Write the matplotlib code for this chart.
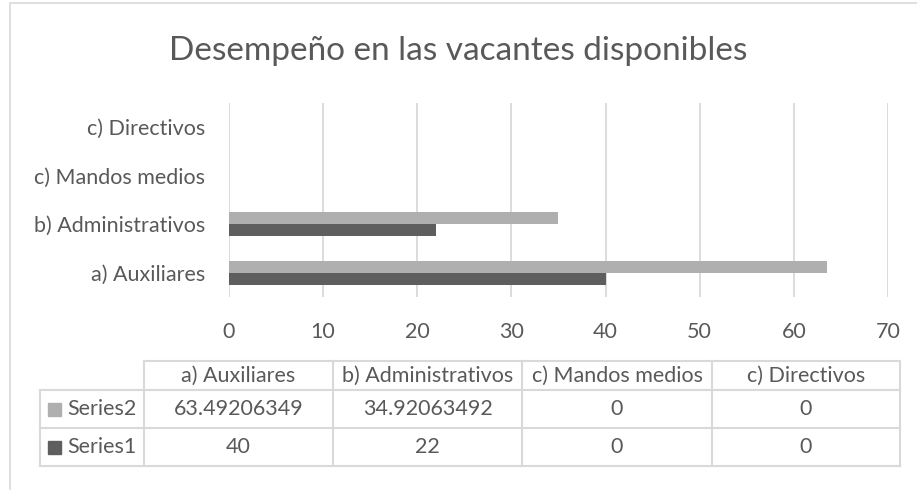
import matplotlib.pyplot as plt
from matplotlib.lines import Line2D
from matplotlib.patches import Rectangle
import numpy as np

plt.rcParams['font.family'] = ['Lato', 'DejaVu Sans']

# datos
categorias = ["a) Auxiliares", "b) Administrativos", "c) Mandos medios", "c) Directivos"]
series1 = [40, 22, 0, 0]
series2 = [63.49206349, 34.92063492, 0, 0]
series1_txt = ["40", "22", "0", "0"]
series2_txt = ["63.49206349", "34.92063492", "0", "0"]
ticks_x = [0, 10, 20, 30, 40, 50, 60, 70]

W, H = 917, 490
GRIS_TXT = "#595959"
GRIS_LINEA = "#D9D9D9"
COLOR_S1 = "#5E5E5E"
COLOR_S2 = "#AFAFAF"
FS = 15.5


def fx(x):
    return x / W


def fy(y):
    return 1 - y / H


fig = plt.figure(figsize=(W / 100, H / 100), dpi=100)

# marco del gráfico (recortado a la derecha y abajo)
fig.add_artist(Rectangle((fx(10), fy(600)), fx(1000), (600 - 3) / H, transform=fig.transFigure,
                         fill=False, edgecolor=GRIS_LINEA, lw=1.2))

fig.text(fx(458), fy(51), "Desempeño en las vacantes disponibles", ha="center", va="center",
         fontsize=24, color=GRIS_TXT)

ax = fig.add_axes([fx(229), fy(297), fx(888 - 229), (297 - 103) / H])
y = np.arange(len(categorias))
ax.barh(y + 0.125, series2, height=0.25, color=COLOR_S2, zorder=3)
ax.barh(y - 0.125, series1, height=0.25, color=COLOR_S1, zorder=3)
ax.set_xlim(0, 70)
ax.set_ylim(-0.5, 3.5)
ax.set_xticks(ticks_x)
ax.set_yticks(y)
ax.set_yticklabels(categorias)
ax.tick_params(length=0, labelsize=FS, labelcolor=GRIS_TXT)
ax.tick_params(axis="x", pad=18)
ax.tick_params(axis="y", pad=17)
ax.grid(axis="x", color=GRIS_LINEA, lw=1.3, zorder=0)
for s in ax.spines.values():
    s.set_visible(False)

# tabla de datos
cols = [144, 333, 522, 712, 900]
filas = [361, 390, 428, 466]
izq = 40


def linea(x0, y0, x1, y1):
    fig.add_artist(Line2D([fx(x0), fx(x1)], [fy(y0), fy(y1)], transform=fig.transFigure,
                          color=GRIS_LINEA, lw=1.5))


linea(cols[0], filas[0], cols[-1], filas[0])
for yy in filas[1:]:
    linea(izq, yy, cols[-1], yy)
linea(izq, filas[1], izq, filas[-1])
for xx in cols:
    linea(xx, filas[0], xx, filas[-1])

for i, cat in enumerate(categorias):
    xc = (cols[i] + cols[i + 1]) / 2
    fig.text(fx(xc), fy((filas[0] + filas[1]) / 2), cat, ha="center", va="center",
             fontsize=FS, color=GRIS_TXT)
    fig.text(fx(xc), fy((filas[1] + filas[2]) / 2), series2_txt[i], ha="center", va="center",
             fontsize=FS, color=GRIS_TXT)
    fig.text(fx(xc), fy((filas[2] + filas[3]) / 2), series1_txt[i], ha="center", va="center",
             fontsize=FS, color=GRIS_TXT)

# claves de la leyenda dentro de la tabla
for nombre, color, (ya, yb) in [("Series2", COLOR_S2, (filas[1], filas[2])),
                                ("Series1", COLOR_S1, (filas[2], filas[3]))]:
    yc = (ya + yb) / 2
    fig.add_artist(Rectangle((fx(48), fy(yc + 6.5)), fx(13), 13 / H, transform=fig.transFigure,
                             color=color))
    fig.text(fx(67), fy(yc), nombre, ha="left", va="center", fontsize=FS, color=GRIS_TXT)

fig.savefig("out.png", dpi=100)
plt.close("all")
